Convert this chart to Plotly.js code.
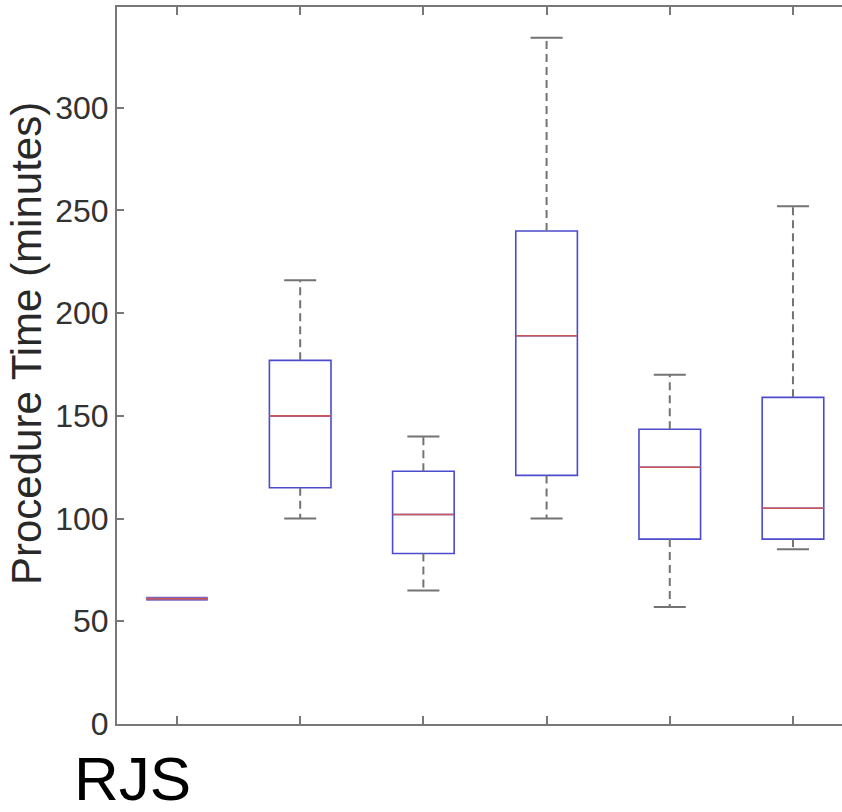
<!DOCTYPE html>
<html><head><meta charset="utf-8">
<script src="https://cdn.plot.ly/plotly-3.0.1.min.js"></script>
<style>html,body{margin:0;padding:0;background:#fff;overflow:hidden}</style>
</head><body><div id="chart" style="width:842px;height:812px"></div>
<script>
// Data (minutes)
const categories = ['RJS', 'Group 2', 'Group 3', 'Group 4', 'Group 5', 'Group 6'];
const lowerWhisker = [61, 100, 65, 100, 57, 85];
const q1Values     = [61, 115, 83, 121, 90, 90];
const medians      = [61, 150, 102, 189, 125, 105];
const q3Values     = [61, 177, 123, 240, 143.5, 159];
const upperWhisker = [61, 216, 140, 334, 170, 252];
const yTicks = [0, 50, 100, 150, 200, 250, 300];

const pos = categories.map((c, i) => i);
const boxHalf = 0.25, capHalf = 0.13;

const blue = 'rgb(75,75,205)', red = 'rgb(205,85,85)', gray = 'rgb(115,115,115)';

function segs(xs, y0s, y1s, dx0, dx1, vertical) {
  const X = [], Y = [];
  xs.forEach((x, i) => {
    if (vertical) {
      if (y0s[i] === y1s[i]) return;
      X.push(x, x, null); Y.push(y0s[i], y1s[i], null);
    } else {
      X.push(x - dx0, x + dx1, null); Y.push(y0s[i], y0s[i], null);
    }
  });
  return {X, Y};
}

const upW = segs(pos, q3Values, upperWhisker, 0, 0, true);
const loW = segs(pos, q1Values, lowerWhisker, 0, 0, true);
const wX = upW.X.concat(loW.X), wY = upW.Y.concat(loW.Y);
const capIdx = pos.filter(i => upperWhisker[i] !== q3Values[i] || lowerWhisker[i] !== q1Values[i]);
const capsU = segs(capIdx, capIdx.map(i => upperWhisker[i]), null, capHalf, capHalf, false);
const capsL = segs(capIdx, capIdx.map(i => lowerWhisker[i]), null, capHalf, capHalf, false);
const flatIdx = pos.filter(i => q1Values[i] === q3Values[i]);
const flat = segs(flatIdx, flatIdx.map(i => q1Values[i]), null, boxHalf, boxHalf, false);
const med = segs(pos, medians, null, boxHalf, boxHalf, false);

const traces = [
  {type: 'scatter', mode: 'lines', x: wX, y: wY, line: {color: gray, width: 2, dash: '8px,5px'}, hoverinfo: 'skip', showlegend: false},
  {type: 'scatter', mode: 'lines', x: capsU.X.concat(capsL.X), y: capsU.Y.concat(capsL.Y), line: {color: gray, width: 2}, hoverinfo: 'skip', showlegend: false},
  {type: 'box', x: pos, q1: q1Values, median: medians, q3: q3Values,
   lowerfence: q1Values, upperfence: q3Values, width: boxHalf * 2, whiskerwidth: 0,
   line: {color: blue, width: 1.6}, fillcolor: 'rgba(0,0,0,0)', boxpoints: false, showlegend: false},
  {type: 'scatter', mode: 'lines', x: flat.X, y: flat.Y, line: {color: 'rgb(120,100,190)', width: 4}, hoverinfo: 'skip', showlegend: false},
  {type: 'scatter', mode: 'lines', x: med.X, y: med.Y, line: {color: red, width: 1.6}, hoverinfo: 'skip', showlegend: false}
];

const layout = {
  width: 842, height: 812,
  margin: {l: 117, r: 0, t: 7, b: 88},
  paper_bgcolor: '#fff', plot_bgcolor: '#fff',
  showlegend: false,
  font: {family: 'Liberation Sans, Arial, sans-serif', color: 'rgb(50,50,50)'},
  xaxis: {
    range: [-0.487, 5.398], tickvals: pos, ticktext: categories, showticklabels: false,
    ticks: 'inside', ticklen: 8, tickwidth: 2, tickcolor: 'rgb(120,120,120)',
    showline: true, linecolor: 'rgb(120,120,120)', linewidth: 2, mirror: 'ticks',
    showgrid: false, zeroline: false
  },
  yaxis: {
    range: [0, 349], tickvals: yTicks,
    ticks: 'inside', ticklen: 7, tickwidth: 2, tickcolor: 'rgb(120,120,120)',
    showline: true, linecolor: 'rgb(120,120,120)', linewidth: 2,
    showgrid: false, zeroline: false,
    tickfont: {size: 32, color: 'rgb(50,50,50)'}
  },
  annotations: [{
    text: 'Procedure Time (minutes)', textangle: -90, xref: 'paper', yref: 'paper',
    x: (27 - 117) / 725, y: (724 - 344) / 717, xanchor: 'center', yanchor: 'middle', showarrow: false,
    font: {size: 42, color: 'rgb(40,40,40)', family: 'Liberation Sans, Arial, sans-serif'}
  }, {
    text: 'RJS', xref: 'paper', yref: 'paper', x: (72 - 117) / 725, y: (724 - 778) / 717,
    xanchor: 'left', yanchor: 'middle', showarrow: false,
    font: {size: 62, color: '#000', family: 'Liberation Sans, Arial, sans-serif'}
  }]
};

Plotly.newPlot('chart', traces, layout, {displayModeBar: false, staticPlot: true});
</script></body></html>
